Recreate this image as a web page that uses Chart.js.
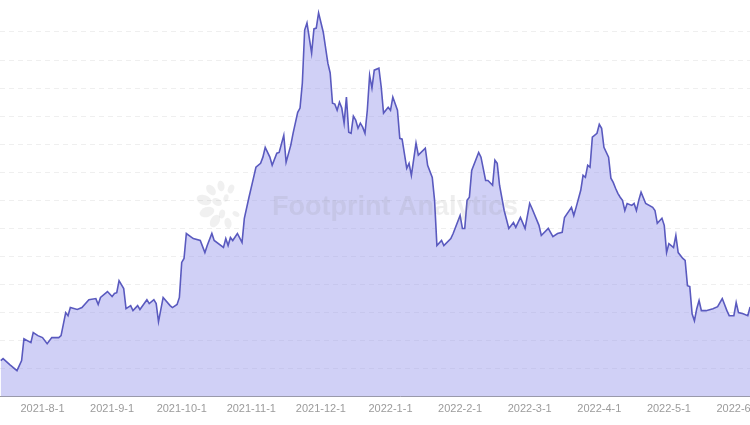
<!DOCTYPE html>
<html>
<head>
<meta charset="utf-8">
<script src="https://cdn.jsdelivr.net/npm/chart.js@4"></script>
<style>
  html, body { margin: 0; padding: 0; background: #ffffff; overflow: hidden; width: 750px; height: 425px; }
  #wrap { position: absolute; left: 0; top: 0; width: 800px; height: 425px; }
</style>
</head>
<body>
<div id="wrap"><canvas id="c"></canvas></div>
<script>
// Day offsets relative to 2021-8-1 and the values
const days = [-18,-17,-14,-11,-9,-8,-5,-4,-2,0,2,4,7,8,10,11,12,15,17,20,23,24,25,28,30,31,32,33,35,36,38,39,41,42,45,46,48,49,50,52,55,56,58,59,60,61,62,65,68,70,71,73,74,78,79,80,81,82,84,86,87,89,91,92,94,95,96,98,99,101,102,104,105,107,108,110,111,112,113,114,116,117,118,119,121,123,124,125,126,127,128,129,130,131,132,133,134,135,136,137,138,139,140,141,142,143,145,146,147,149,150,151,153,154,155,157,158,159,161,162,165,166,168,169,170,172,173,176,177,180,181,182,183,184,185,188,189,191,192,194,195,196,197,199,201,203,204,206,208,210,211,214,215,218,220,222,224,225,228,229,230,232,233,234,235,236,237,239,240,241,242,244,245,246,247,248,249,250,251,252,254,255,256,257,258,260,263,264,265,267,268,269,270,272,273,274,276,277,278,279,280,281,282,283,284,286,289,291,293,295,296,298,299,300,302,304,305];
const values = [12.9,13.6,11.4,9.3,12.9,20.7,19.3,22.9,21.8,21.1,18.9,21.1,21.1,21.8,30.0,28.9,31.8,31.1,31.8,34.6,35.0,32.9,35.4,37.5,35.7,36.8,37.1,41.4,38.6,31.4,32.5,30.7,32.5,31.1,34.6,33.2,34.6,33.2,26.8,35.4,32.5,31.8,32.9,35.4,47.9,49.3,58.2,56.4,55.7,51.4,53.9,58.2,55.7,53.2,56.4,53.9,56.8,55.7,58.2,55.0,63.6,71.1,78.2,81.8,83.2,85.4,88.9,85.4,82.5,86.8,87.1,93.2,83.6,89.6,93.9,101.4,102.9,111.8,130.7,133.2,122.5,131.1,131.4,136.8,130.0,118.9,115.4,104.6,104.3,102.1,105.0,102.9,97.5,106.8,94.3,93.9,100.0,98.6,95.7,97.5,96.1,93.9,102.1,114.6,110.0,116.4,117.1,110.4,101.1,103.2,102.1,106.8,102.1,92.1,91.8,81.4,83.2,78.9,90.4,86.1,88.6,82.5,78.2,70.0,53.9,55.7,53.9,56.4,58.2,64.6,60.0,60.0,70.0,71.1,80.7,87.1,85.4,77.1,77.1,75.4,84.3,83.2,75.4,66.4,60.0,62.1,60.4,63.9,60.0,68.9,67.1,61.1,57.5,60.0,57.1,58.2,58.6,63.9,67.5,64.6,67.5,73.6,78.9,78.2,82.5,81.8,92.5,93.9,97.1,95.7,88.9,85.4,77.9,76.4,74.3,72.5,71.1,70.0,66.4,68.9,68.2,68.9,66.4,70.0,72.9,68.9,67.5,66.4,61.8,63.6,61.1,51.4,54.6,53.2,57.5,51.4,49.3,48.6,39.6,39.3,29.6,27.1,31.4,34.3,30.7,30.7,31.4,32.1,35.0,30.7,28.9,28.9,33.6,30.0,29.6,28.9,32.0];
// Axis labels (one every 30 days on the category index)
const tickDays = [0,30,60,90,120,150,180,210,240,270,300];
const tickLabels = ['2021-8-1','2021-9-1','2021-10-1','2021-11-1','2021-12-1','2022-1-1','2022-2-1','2022-3-1','2022-4-1','2022-5-1','2022-6-1'];

const points = days.map((d, i) => ({ x: d, y: values[i] }));

const watermark = {
  id: 'watermark',
  afterDatasetsDraw(chart) {
    const ctx = chart.ctx;
    ctx.save();
    const cx = 224, cy = 206;
    const dots = [[-20,-6,5],[-17,6,5],[-9,15,4.5],[-13,-16,4],[-3,-20,3.5],[7,-17,3],[4,17,3.5],[-2,8,3],[-7,-4,3.5],[2,-8,2.5],[12,8,2.5]];
    ctx.fillStyle = 'rgba(150,150,150,0.14)';
    dots.forEach(([dx, dy, r]) => { ctx.beginPath(); ctx.ellipse(cx + dx, cy + dy, r * 1.5, r, Math.atan2(dy, dx), 0, Math.PI * 2); ctx.fill(); });
    ctx.font = 'bold 27px "Liberation Sans", Arial, sans-serif';
    ctx.fillStyle = 'rgba(140,140,140,0.15)';
    ctx.textBaseline = 'middle';
    ctx.fillText('Footprint Analytics', 272, 208);
    ctx.restore();
  }
};

new Chart(document.getElementById('c'), {
  type: 'line',
  data: {
    datasets: [{
      data: points,
      borderColor: '#5a5abf',
      borderWidth: 1.6,
      backgroundColor: 'rgba(150,150,235,0.45)',
      fill: 'origin',
      pointRadius: 0,
      tension: 0
    }]
  },
  options: {
    responsive: true,
    maintainAspectRatio: false,
    animation: false,
    layout: { padding: { left: 0, right: 0, top: 0, bottom: 3 } },
    plugins: { legend: { display: false }, tooltip: { enabled: false } },
    scales: {
      x: {
        type: 'linear',
        min: -18.32,
        max: -18.32 + 800 / 2.32,
        grid: { display: false, drawTicks: false },
        border: { display: true, color: '#9a9a9a', width: 1 },
        afterBuildTicks(scale) { scale.ticks = tickDays.map(v => ({ value: v })); },
        ticks: {
          autoSkip: false,
          maxRotation: 0,
          padding: 6,
          color: '#9b9b9b',
          font: { family: '"Liberation Sans", Arial, sans-serif', size: 11 },
          callback(v) { const k = tickDays.indexOf(v); return k >= 0 ? tickLabels[k] : ''; }
        }
      },
      y: {
        min: 0,
        max: 141.4,
        ticks: { display: false, stepSize: 10 },
        grid: {
          drawTicks: false,
          color(c) { return (c.tick && c.tick.value > 135) ? 'rgba(0,0,0,0)' : '#efefef'; },
          lineWidth: 1
        },
        border: { display: false, dash: [5, 4] }
      }
    }
  },
  plugins: [watermark]
});
</script>
</body>
</html>
